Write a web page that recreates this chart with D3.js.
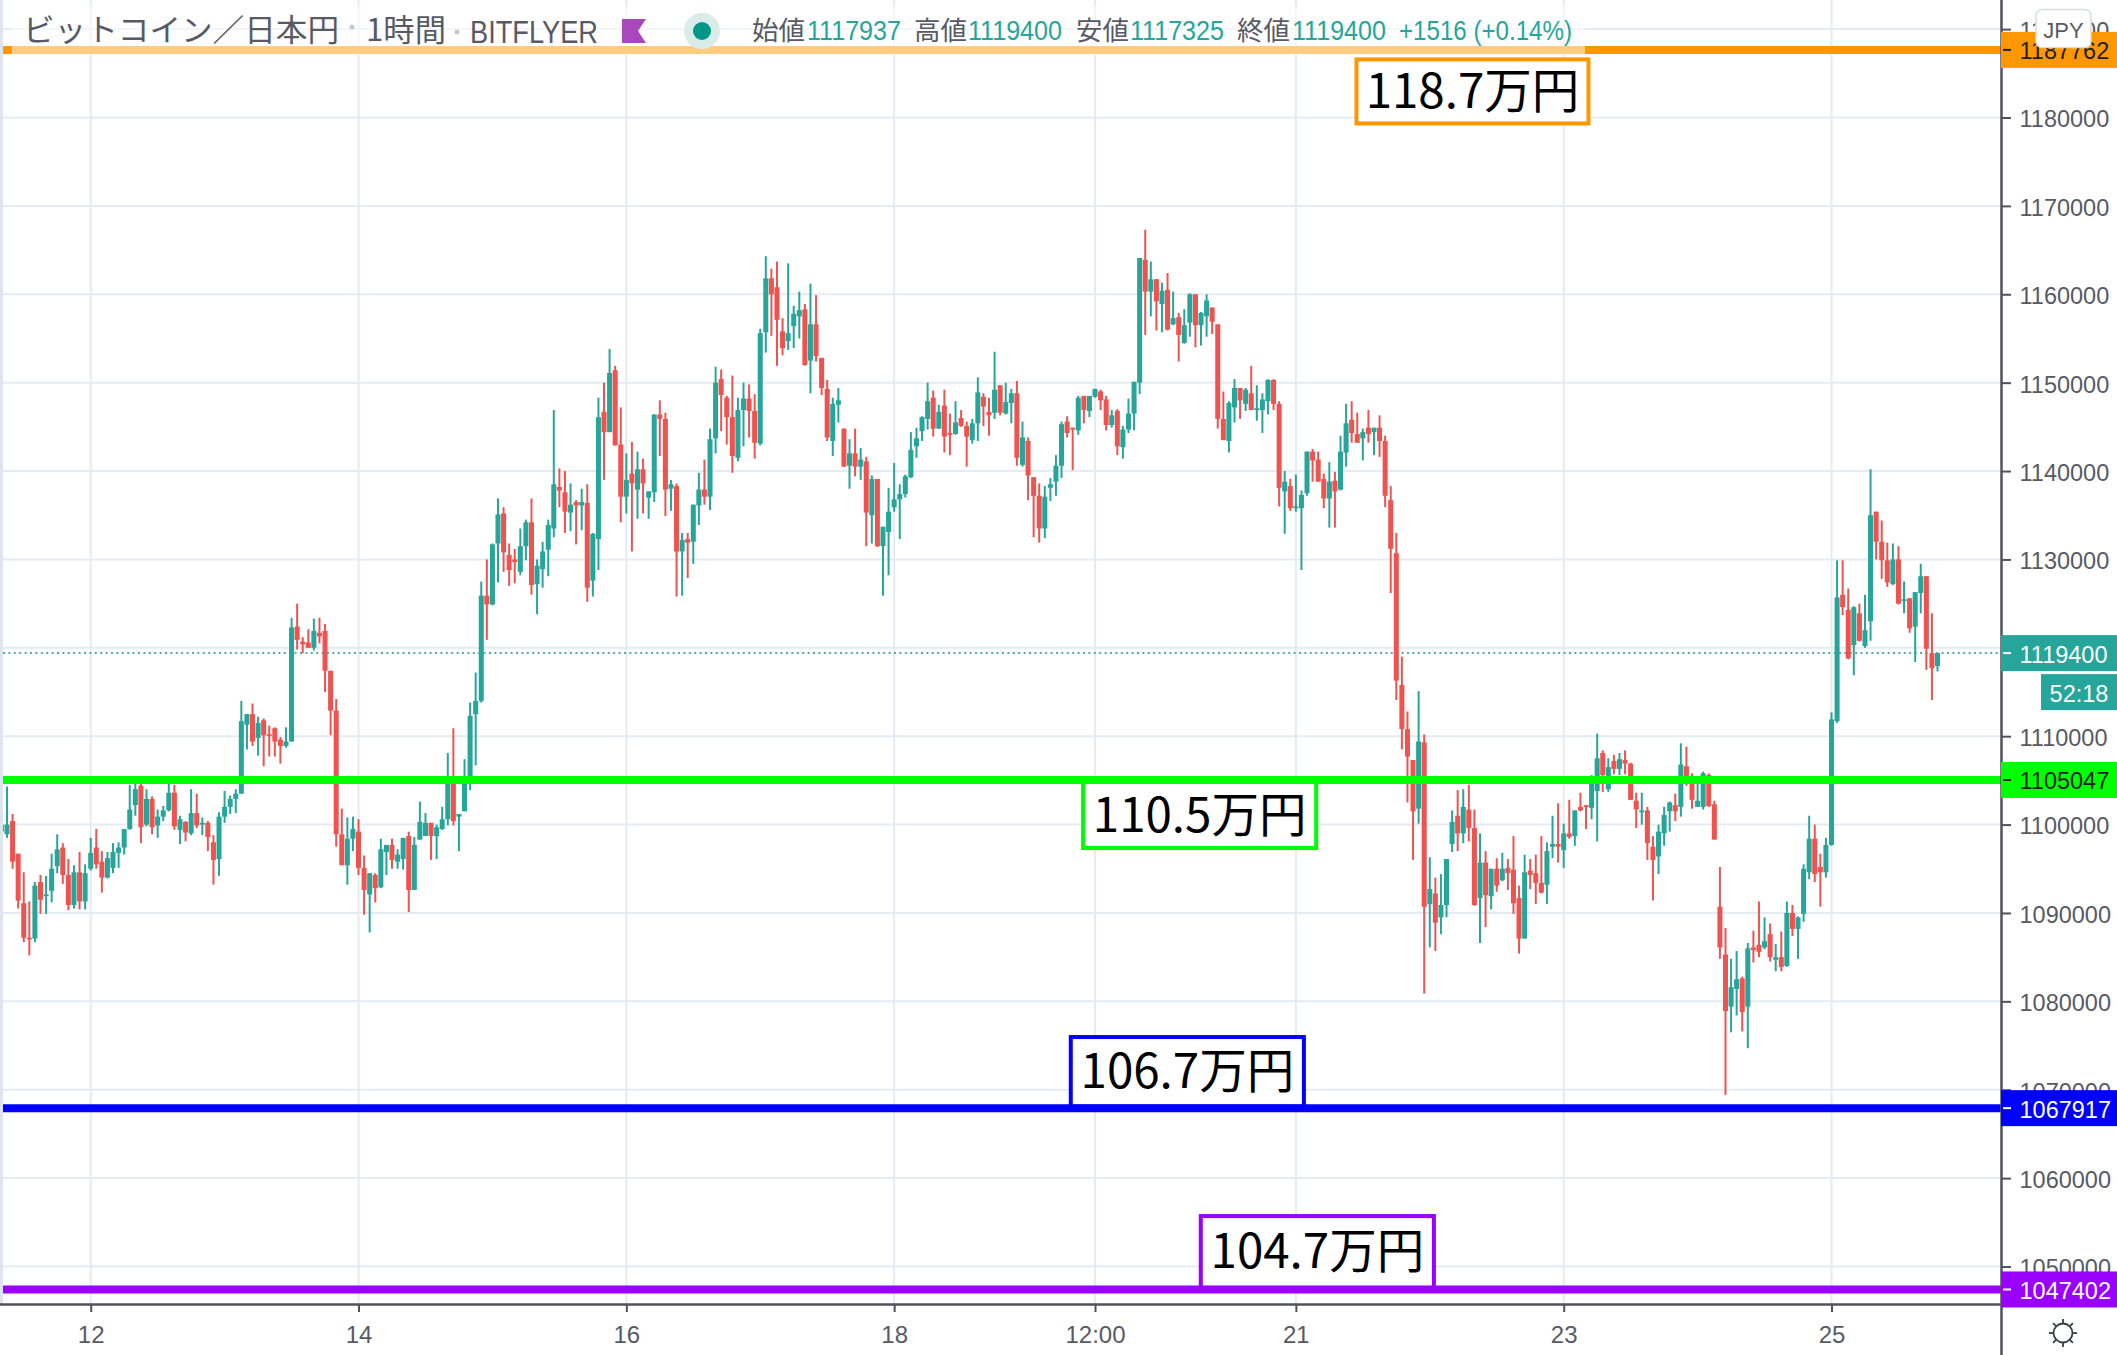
<!DOCTYPE html>
<html><head><meta charset="utf-8"><title>ビットコイン／日本円</title>
<script src="https://cdn.jsdelivr.net/npm/d3@7/dist/d3.min.js"></script>
<style>html,body{margin:0;padding:0;background:#fff;overflow:hidden}svg{display:block}</style></head>
<body><svg id="c" width="2117" height="1355"></svg>
<script>
// Hours counted from Feb 12 00:00; first candle is hour -16. Values in thousand yen.
const firstHour = -16;
const opens = [
1100,1098.9,1100.4,1096.7,1091.1,1087.2,1087.1,1093.5,1091.9,1092.5,1095.3,1097.4,
1094.3,1090.9,1094.6,1091.3,1095,1097.4,1095.8,1094,1095.1,1096.8,1097.4,1099.5,
1102.2,1104.4,1100,1102.9,1099.9,1100.9,1101.6,1103.6,1099.4,1100.3,1099,1101.3,
1100,1100.2,1098,1096.1,1100.9,1102,1102.9,1103.5,1111.3,1112.5,1109.8,1111.8,
1110.2,1110.9,1109.6,1108.9,1109.4,1122.4,1120.7,1120.6,1120,1121.7,1121.9,1117.4,
1112.9,1098.9,1095.4,1098.4,1099.2,1095.1,1092.1,1094.3,1092.9,1096.9,1097.7,1095.8,
1096.1,1098.7,1092.6,1098.3,1098.7,1100.2,1098.7,1099.5,1100.6,1104.6,1100.9,1101.5,
1105.1,1112.5,1114,1125.9,1124.9,1131.8,1135.2,1130.5,1130,1128.6,1131.5,1134.2,
1127.2,1128.9,1131.1,1133.5,1138.2,1137.6,1135.3,1136.5,1136.1,1136.4,1127.6,1132.3,
1146.7,1144.4,1151.4,1143,1137.1,1139.7,1137.9,1140.2,1137,1137.6,1146.4,1145.9,
1138,1138.3,1130.9,1132.3,1132,1136.1,1137.9,1137.1,1143.7,1150.4,1148.3,1146.1,
1141.5,1146.9,1148.2,1146.8,1143.1,1155.7,1161.8,1160.8,1155.8,1154.7,1156.4,1157.5,
1158.3,1152.5,1156.6,1152.8,1149.3,1143.4,1147.5,1144.8,1140.6,1142,1140.5,1141.1,
1135,1139.1,1131.5,1133.1,1135.9,1136.8,1137.4,1139.3,1142.8,1144.5,1145.9,1148.3,
1144.8,1147.4,1144.3,1144.2,1146,1145.1,1143.5,1145.4,1148.4,1146.7,1146.6,1149.7,
1146.5,1147.7,1148.8,1140.7,1143.4,1139.3,1137.2,1133.5,1138.1,1138.8,1140.6,1145.6,
1144.9,1144.6,1148.5,1146.8,1148.4,1149,1148.1,1145.2,1146.8,1142.7,1144.7,1146.5,
1150,1163.9,1160.3,1161.7,1158.9,1160.5,1156.6,1157.4,1154.5,1156.8,1160,1156.5,
1157.5,1158.5,1156.6,1145.9,1143.4,1147.2,1149.4,1147.6,1148.8,1146.9,1146.9,1147.9,
1150.3,1147.6,1137.7,1138.3,1135.8,1135.8,1137.5,1142.2,1141.3,1139.1,1136.9,1138.9,
1137.9,1142.1,1145.8,1144.2,1143.7,1144.9,1144.4,1144.9,1143.4,1136.7,1130.7,1115.8,
1110.8,1107.3,1101.8,1109.3,1091,1092.2,1089.5,1090.9,1097.8,1101,1099,1101.7,
1099.6,1091.7,1095.7,1091.9,1095,1093.7,1095.1,1094.9,1091.7,1087.1,1094.8,1094.5,
1093.4,1093.2,1097.5,1097.8,1097.1,1099,1098.7,1102,1102.2,1101.9,1103.8,1108.1,
1104,1107.2,1106.3,1107.3,1106.9,1102.7,1101.4,1101.6,1097.5,1096.4,1099,1101.5,
1102.2,1102,1106.6,1105.5,1102,1102,1105.6,1102.3,1090.7,1085.3,1079.4,1081.4,
1082.6,1079.4,1086.1,1086.4,1086.1,1087.6,1084.7,1085,1084,1090,1088.2,1089.9,
1094.6,1098.4,1095.2,1094.6,1097.7,1111.7,1126,1124.3,1120.3,1123.9,1120.2,1123,
1135.4,1132,1129.9,1127.2,1130,1125.3,1125.6,1122.4,1126.2,1128.1,1119.4,1117.937];
const highs = [
1100,1104.3,1101.2,1096.7,1094.6,1091.3,1093.5,1094.3,1094.2,1096.7,1098.9,1097.9,
1096.1,1095.4,1096.9,1095.5,1098.5,1099.5,1097,1096.9,1097.9,1098,1099.5,1104.5,
1104.6,1104.6,1104,1103.2,1101.7,1102.1,1104.6,1104.5,1101,1100.4,1104,1103.5,
1100.8,1100.4,1098.8,1101.4,1103.8,1103.3,1104,1114,1112.5,1113.7,1112.2,1112,
1111.2,1111,1109.9,1111,1123.4,1125,1121.2,1122.1,1123.3,1123.4,1122.7,1117.4,
1114.2,1101.8,1100.8,1100.9,1100.6,1096.5,1094.5,1094.5,1098.4,1097.7,1098.4,1097.2,
1098.5,1099.2,1098.6,1102.6,1101.3,1100.2,1100,1102,1108.1,1110.9,1101.2,1107.4,
1113.8,1117.2,1127.5,1130,1131.8,1136.9,1135.9,1131.8,1131.2,1133.5,1134.5,1136.9,
1130,1132,1134.5,1146.9,1140.3,1140,1138.6,1136.7,1138,1138.5,1133,1148.3,
1150,1153.8,1151.9,1147.2,1142,1143.3,1142.2,1141.4,1137.7,1146.4,1148,1146.6,
1139,1138.6,1133,1133,1136.2,1139.8,1141.3,1144.8,1151.8,1151.5,1148.5,1150.8,
1148.3,1150,1149.8,1148.7,1156.1,1164.3,1162.9,1163.7,1157.3,1163.5,1158.7,1160.3,
1158.9,1161.2,1159.9,1152.8,1150.3,1148.3,1149.4,1144.8,1143.6,1144.8,1142.6,1141.6,
1139.5,1139.1,1133.7,1138.1,1140.9,1138.5,1139.6,1144.4,1144.9,1146.2,1150,1149.1,
1147.5,1149.2,1146.5,1147.9,1146.9,1145.6,1145.9,1150.6,1148.8,1148.3,1153.5,1149.7,
1150,1149.3,1150.2,1145.6,1143.8,1139.3,1138.6,1138.3,1139.2,1141.8,1145.6,1146.2,
1144.9,1148.5,1148.5,1148.5,1149.3,1149.2,1148.5,1146.9,1147,1145.1,1148.2,1150.1,
1164.1,1167.3,1163.7,1161.7,1161.3,1162.4,1160.3,1157.9,1158.3,1160.1,1160,1158,
1160,1158.5,1156.6,1149,1147.9,1150.4,1149.4,1149.4,1151.9,1149.7,1148.8,1150.4,
1150.4,1147.9,1140,1139.1,1139.6,1137.8,1142.2,1142.5,1142.2,1139.7,1141,1139.9,
1144,1147.6,1147.9,1146.6,1144.8,1146.9,1144.9,1146.3,1144,1138.3,1133,1119,
1112.8,1107.3,1115.1,1110.2,1096.3,1094,1094.4,1096.1,1101.6,1103.9,1104,1104.5,
1101.7,1099,1097,1095,1096.2,1096.8,1096.1,1098.7,1093.1,1096.6,1096.1,1096.6,
1098.7,1098,1101,1102.4,1100.1,1102.8,1101.6,1103.6,1102.2,1105.6,1110.3,1108.4,
1107.5,1107.9,1108.1,1108.4,1107,1103.6,1103.6,1102,1098.7,1100,1102,1102.6,
1103.5,1109.2,1108.8,1105.8,1104.9,1106,1105.8,1102.7,1095.2,1088.3,1084.8,1085.7,
1082.8,1086.6,1088,1091.3,1089.5,1088.8,1086.5,1087.9,1091.3,1090.9,1089.6,1095.5,
1101,1100,1096.7,1098.5,1112.7,1129.9,1129.9,1126.7,1124.7,1125,1126,1140.2,
1135.4,1134.4,1131.9,1131.8,1131.5,1127.5,1125.6,1126.3,1129.5,1128.1,1123.9,1119.4];
const lows = [
1099.2,1098.5,1095,1090.5,1086.7,1085.2,1086.7,1089.9,1089.9,1091.2,1094.5,1093.3,
1090.3,1090.5,1090.4,1090.4,1094.8,1095,1092.3,1093.9,1094.5,1095.1,1096.6,1099.4,
1101,1097.9,1099.8,1098.9,1098.5,1100.4,1101.5,1099.4,1097.8,1098.1,1098.8,1099.6,
1098.8,1097,1093.2,1094.2,1100.2,1101.2,1101.3,1103.5,1108.5,1108.9,1107.8,1106.6,
1107.7,1107.7,1106.9,1108.7,1109.4,1119.8,1119.4,1120,1119.7,1120.5,1115,1110.1,
1097.5,1095.4,1093.2,1097,1094.3,1089.8,1087.8,1091.2,1092.8,1094.3,1095,1095,
1094.9,1090.1,1092.6,1098.3,1098.7,1096,1096.1,1099.4,1099.9,1099.9,1097,1101.5,
1103.9,1106.7,1113.8,1120.9,1124.8,1127.4,1128.6,1127,1127.3,1128.2,1129.9,1126,
1123.8,1126.8,1128.1,1132.5,1135.9,1133,1133.2,1131.7,1133.3,1125.2,1125.8,1128.8,
1139,1144.4,1142.9,1134.2,1135.2,1130.9,1134.6,1135.2,1134.6,1136.5,1141.7,1134.9,
1135.5,1125.8,1125.9,1127.9,1129.5,1133.9,1136.2,1135.6,1142,1144.5,1143,1139.8,
1141.1,1142.8,1143.8,1141.4,1142.9,1153.4,1155.3,1151.9,1153.1,1153.7,1153.9,1155,
1151.9,1148.8,1152.4,1148.6,1143.4,1141.7,1145.5,1140.5,1138,1139.4,1139,1131.5,
1131.8,1131.4,1125.9,1128.2,1135.4,1132.3,1137,1139.2,1141.5,1143.4,1144.7,1143.9,
1144.8,1142.1,1141.8,1144.1,1145,1140.5,1143.1,1143.4,1145.1,1144,1145.9,1146.3,
1146.4,1145.4,1140.6,1140.5,1136.7,1132.5,1131.9,1132.4,1136.6,1137.2,1139.2,1143.8,
1140.1,1144.1,1145.4,1146.1,1148.3,1146.9,1144.6,1144.9,1141.8,1141.4,1144.3,1144.6,
1148.7,1155.4,1157.5,1155.9,1155.7,1155.9,1156.5,1152.4,1154.4,1155.2,1154,1154.2,
1155.2,1155.5,1144.8,1143.5,1142.1,1145.5,1145.9,1146.8,1146.9,1145.7,1144.3,1146.4,
1146.9,1136,1132.9,1135.5,1135.4,1128.8,1137.2,1138.8,1138.8,1135.8,1133.6,1133.6,
1137.8,1140.5,1143.2,1143.2,1141.2,1143.2,1141.8,1141.6,1135.9,1126.2,1114.1,1108.5,
1102.5,1096,1100.1,1080.9,1086.1,1085.7,1087.6,1089.5,1096.9,1097,1097.9,1098.1,
1090.8,1086.6,1088.4,1090.4,1092.4,1093.6,1092.6,1089.9,1085.4,1087.1,1092.7,1091,
1092.2,1091,1096.2,1095.7,1095.1,1098.4,1097.6,1101.5,1099.5,1100.6,1098.1,1103.7,
1103.7,1105.7,1105.6,1105.7,1102.8,1099.6,1100,1096,1091.4,1094.4,1097.6,1099.2,
1100.4,1100.9,1104.4,1101.8,1102,1101.7,1102,1098.3,1084.8,1069.4,1076.5,1078.4,
1076.6,1074.7,1084.4,1085,1085.9,1084.5,1083.4,1083.4,1083.9,1087.4,1084.8,1089,
1093.8,1093.5,1090.7,1094,1097.6,1111.5,1123.7,1118.7,1116.9,1120.7,1120,1120.8,
1130,1127.8,1126.9,1127.1,1124.9,1123.9,1121.7,1118.4,1123.9,1117.5,1114.1,1117.325];
const closes = [
1099.2,1100,1095.8,1091.4,1087.2,1087.1,1093.1,1091.5,1092.1,1095,1097.2,1094.3,
1090.9,1094.6,1091.3,1094.5,1096.8,1095.5,1094,1096.2,1096.9,1097.4,1099.5,1101.7,
1104,1099.7,1102.9,1099.7,1100.9,1101.6,1103.6,1099.8,1100.6,1099.1,1101.3,1099.9,
1100.2,1098.6,1096,1100.9,1102,1102.9,1103.5,1111.7,1112.5,1109.4,1111.5,1110.1,
1110.1,1109.4,1108.9,1109.4,1122.3,1120.9,1120.4,1120,1121.9,1121.3,1117.4,1112.9,
1098.9,1095.4,1098.4,1099.5,1095.1,1092.6,1094.5,1092.8,1097.2,1097.7,1096,1096.6,
1098.5,1092.6,1097.7,1100.3,1100.2,1098.7,1099.7,1100.6,1104.7,1100.4,1101.2,1105.1,
1112.3,1114,1125.9,1124.9,1131.7,1135.1,1130.8,1128.8,1129.7,1131.5,1134.2,1127.1,
1129.3,1130.9,1133.9,1138.5,1137.8,1135.4,1136.2,1136.1,1136.5,1126.8,1132.9,1146.1,
1144.4,1151.1,1142.9,1137.1,1139,1138.6,1140.2,1138.6,1137.7,1146.4,1145.9,1137.9,
1138.5,1130.9,1132.2,1131.9,1136.2,1137.9,1137.1,1143.6,1150,1148.6,1146.1,1141.7,
1146.9,1148.2,1146.8,1143.2,1155.6,1161.8,1160,1157.1,1153.9,1155.6,1157.8,1158.2,
1152,1156.6,1153,1149.4,1143.8,1147.6,1148,1140.5,1142,1140.5,1141.3,1135.3,
1139.1,1131.5,1133.7,1135.4,1136.8,1137.4,1139.4,1142.4,1143.7,1146.1,1147.9,1144.8,
1146.7,1143.9,1144.1,1145.5,1145.1,1143.9,1145.4,1148.9,1147.3,1146.3,1149.2,1146.6,
1147.8,1148.8,1141.5,1143.8,1139.5,1137.2,1133.5,1137.1,1138.5,1140.6,1145.3,1144.3,
1144.7,1148.3,1146.9,1148.5,1149.3,1148,1145.2,1146.3,1142.8,1144.7,1146.5,1150.1,
1164.1,1160.3,1161.7,1159.2,1160.4,1156,1157.3,1155.4,1156.5,1160,1156.5,1157.9,
1159.3,1156.9,1145.9,1143.5,1147.7,1149.4,1148,1149.2,1146.9,1147.1,1148.1,1150.3,
1147.6,1138.1,1138.8,1135.8,1136,1137.3,1142.2,1141.2,1138.8,1136.9,1138.8,1137.7,
1142.2,1145.4,1144.3,1143.2,1144.4,1144.2,1144.9,1143.4,1137.2,1131.2,1116.3,1110.8,
1107.7,1101.5,1109.4,1090.7,1092.7,1088.9,1090.9,1096.1,1100.3,1099,1102,1099.6,
1090.9,1095.7,1092,1095,1093.1,1095,1094.5,1091.1,1087.1,1094.6,1094.3,1093.4,
1092.3,1097,1097.8,1097.5,1099,1098.6,1101.6,1101.6,1102,1104.7,1107.5,1105.6,
1106.5,1106.3,1107.4,1106.9,1102.8,1101.7,1101.6,1097.9,1096,1099.2,1101.1,1102.5,
1101.5,1106.8,1104.6,1102.8,1102.7,1105.8,1102.1,1098.3,1086.1,1078.9,1081.6,1082.5,
1078.8,1086,1085.8,1085.6,1086.8,1085,1085,1083.9,1090,1088.2,1089.5,1095,
1098.4,1094.4,1094.6,1097.7,1111.9,1125.7,1124.6,1118.8,1124.6,1120.8,1122,1135,
1132,1129.9,1127.4,1130,1125,1125.5,1122.2,1126.3,1128.1,1119.9,1117.7,1119.4];

const priceTicks = [1190000,1180000,1170000,1160000,1150000,1140000,1130000,1120000,1110000,1100000,1090000,1080000,1070000,1060000,1050000];
const timeTickHours = [0,48,96,144,180,216,264,312];
const timeTickLabels = ['12','14','16','18','12:00','21','23','25'];
const gridHours = timeTickHours;

const levelPrices = [1187762,1105047,1067917,1047402];
const levelColors = ['#ff9800','#00ff00','#0000ff','#9900ff'];
const levelTextColors = ['#1f1f1f','#1f1f1f','#ffffff','#ffffff'];
const noteTexts = ['118.7万円','110.5万円','106.7万円','104.7万円'];
const noteHourFrom = [226.5,177.5,175.3,198.6];
const noteHourTo = [268.8,220,217.8,241.1];
const notePriceTop = [1186800,1105047,1076187,1055933];
const notePriceBottom = [1179100,1097119,1067917,1047402];
const lastPrice = 1119400;
const countdown = '52:18';

const W=2117,H=1355,plotL=3,plotR=2001,plotB=1304;
const UP='#26a69a',DOWN='#ef5350',GRID='#e4ebf2',AXIS='#50535e',TXT='#575a65';
const SANS='"Noto Sans CJK JP","Noto Sans",sans-serif';
const NUM='"Liberation Sans",Arial,sans-serif';

const x=d3.scaleLinear().domain([0,312]).range([90.7,1831.5]);
const y=d3.scaleLinear().domain([1050000,1180000]).range([1266.5,117.5]);
const svg=d3.select('#c');

svg.append('rect').attr('x',0).attr('y',0).attr('width',W).attr('height',H).attr('fill','#fff');
svg.append('rect').attr('x',0).attr('y',0).attr('width',3).attr('height',plotB).attr('fill','#e0e3f0');

const defs=svg.append('defs');
defs.append('clipPath').attr('id','plot').append('rect').attr('x',plotL).attr('y',0).attr('width',plotR-plotL).attr('height',plotB);

// grid
svg.append('g').selectAll('line').data(priceTicks).join('line')
  .attr('x1',plotL).attr('x2',plotR).attr('y1',d=>y(d)).attr('y2',d=>y(d))
  .attr('stroke',GRID).attr('stroke-width',2);
svg.append('g').selectAll('line').data(gridHours).join('line')
  .attr('x1',d=>x(d)).attr('x2',d=>x(d)).attr('y1',0).attr('y2',plotB)
  .attr('stroke',GRID).attr('stroke-width',2);

// last price dotted line
svg.append('line').attr('x1',plotL).attr('x2',plotR).attr('y1',y(lastPrice)).attr('y2',y(lastPrice))
  .attr('stroke','#1f8f85').attr('stroke-width',1.5).attr('stroke-dasharray','2 3.4');

// candles
const candles=d3.range(opens.length).map(i=>({h:firstHour+i,o:opens[i]*1000,hi:highs[i]*1000,lo:lows[i]*1000,c:closes[i]*1000}));
const cg=svg.append('g').attr('clip-path','url(#plot)');
const col=d=>d.c>=d.o?UP:DOWN;
cg.selectAll('line.w').data(candles).join('line').attr('class','w')
  .attr('x1',d=>x(d.h)).attr('x2',d=>x(d.h)).attr('y1',d=>y(d.hi)).attr('y2',d=>y(d.lo))
  .attr('stroke',col).attr('stroke-width',2);
const bw=(x(1)-x(0))*0.9;
cg.selectAll('rect.b').data(candles).join('rect').attr('class','b')
  .attr('x',d=>x(d.h)-bw/2).attr('width',bw)
  .attr('y',d=>y(Math.max(d.o,d.c)))
  .attr('height',d=>Math.max(1.6,Math.abs(y(d.o)-y(d.c))))
  .attr('fill',col);

// level lines
svg.append('g').selectAll('line').data(levelPrices).join('line')
  .attr('x1',plotL).attr('x2',plotR).attr('y1',(d,i)=>y(d)+(i===0?1:0)).attr('y2',(d,i)=>y(d)+(i===0?1:0))
  .attr('stroke',(d,i)=>levelColors[i]).attr('stroke-width',8);

// annotation boxes
const ng=svg.append('g');
noteTexts.forEach((t,i)=>{
  const x0=x(noteHourFrom[i]),x1=x(noteHourTo[i]),y0=y(notePriceTop[i]),y1=y(notePriceBottom[i]);
  ng.append('rect').attr('x',x0+2).attr('y',y0+2).attr('width',x1-x0-4).attr('height',y1-y0-4)
    .attr('fill','#fff').attr('stroke',levelColors[i]).attr('stroke-width',4);
  ng.append('text').attr('x',(x0+x1)/2).attr('y',(y0+y1)/2-4).attr('text-anchor','middle').attr('dominant-baseline','central')
    .attr('font-family',SANS).attr('font-size',47.5).attr('fill','#000').text(t);
});

// header veil
svg.append('rect').attr('x',12).attr('y',6).attr('width',1573).attr('height',49).attr('fill','#fff').attr('opacity',0.5);

// header text
function head(t,xp,wd,fill,size){
  const el=svg.append('text').attr('x',xp).attr('y',40).attr('font-family',SANS).attr('font-size',size||24).attr('fill',fill).text(t);
  if(wd) el.attr('textLength',wd).attr('lengthAdjust','spacingAndGlyphs');
  return el;
}
head('ビットコイン／日本円',23,316,TXT,31).attr('y',41);
head('1時間',366,80,TXT,31).attr('y',41);
head('BITFLYER',470,128,TXT,32).attr('y',43).attr('font-family',NUM);
svg.append('circle').attr('cx',352).attr('cy',27).attr('r',2.5).attr('fill','#c6c9cf');
svg.append('circle').attr('cx',457).attr('cy',32).attr('r',2.5).attr('fill','#c6c9cf');
svg.append('path').attr('d',d3.line()([[622,19],[646,19],[638,31],[646,43],[622,43]])+'Z').attr('fill','#ab47bc');
svg.append('circle').attr('cx',702).attr('cy',31).attr('r',18).attr('fill','#d9ecea');
svg.append('circle').attr('cx',702).attr('cy',31).attr('r',9).attr('fill','#009688');
const legendLabels=['始値','高値','安値','終値'];
const legendValues=['1117937','1119400','1117325','1119400'];
const legendLabelX=[752,914,1076,1237];
const legendValueX=[807,968,1130,1292];
legendLabels.forEach((l,i)=>{
  head(l,legendLabelX[i],53,TXT,26);
  head(legendValues[i],legendValueX[i],94,UP,27).attr('font-family',NUM);
});
head('+1516 (+0.14%)',1399,173,UP,27).attr('font-family',NUM);

// price axis
svg.append('rect').attr('x',plotR).attr('y',0).attr('width',W-plotR).attr('height',H).attr('fill','#fff');
const yAxis=d3.axisRight(y).tickValues(priceTicks).tickSize(10).tickPadding(10).tickFormat(d3.format('d'));
const ya=svg.append('g').attr('transform',`translate(${plotR},0)`).call(yAxis);
ya.select('.domain').remove();
ya.selectAll('line').attr('stroke',AXIS).attr('stroke-width',2);
ya.selectAll('text').attr('font-family',NUM).attr('font-size',23.5).attr('fill',TXT).attr('x',18.5).attr('dy','0.4em');

// axis lines
svg.append('line').attr('x1',plotR+0.5).attr('x2',plotR+0.5).attr('y1',0).attr('y2',H).attr('stroke',AXIS).attr('stroke-width',2.5);
svg.append('line').attr('x1',0).attr('x2',plotR).attr('y1',plotB+0.5).attr('y2',plotB+0.5).attr('stroke',AXIS).attr('stroke-width',2.5);

// time axis
const xAxis=d3.axisBottom(x).tickValues(timeTickHours).tickSize(8).tickPadding(10).tickFormat((d,i)=>timeTickLabels[i]);
const xa=svg.append('g').attr('transform',`translate(0,${plotB})`).call(xAxis);
xa.select('.domain').remove();
xa.selectAll('line').attr('stroke',AXIS).attr('stroke-width',2);
xa.selectAll('text').attr('font-family',NUM).attr('font-size',24).attr('fill',TXT).attr('y',22).attr('dy','0.71em');

// price labels
function priceLabel(p,h,bg,fg,nudge){
  const cy=y(p)+(nudge||0);
  svg.append('rect').attr('x',plotR).attr('y',cy-h/2).attr('width',W-plotR).attr('height',h).attr('fill',bg);
  svg.append('line').attr('x1',plotR+2).attr('x2',plotR+10).attr('y1',cy).attr('y2',cy).attr('stroke',fg).attr('stroke-width',2);
  svg.append('text').attr('x',2019.5).attr('y',cy).attr('dy','0.4em').attr('font-family',NUM).attr('font-size',23.5).attr('fill',fg).text(String(p));
}
levelPrices.forEach((p,i)=>priceLabel(p,36,levelColors[i],levelTextColors[i],i===0?1:0));
priceLabel(lastPrice,36,UP,'#fff',0);
svg.append('rect').attr('x',2041).attr('y',y(lastPrice)+21).attr('width',W-2041).attr('height',36).attr('fill',UP);
svg.append('text').attr('x',2079).attr('y',y(lastPrice)+39).attr('dy','0.4em').attr('text-anchor','middle').attr('font-family',NUM).attr('font-size',23.5).attr('fill','#fff').text(countdown);

// currency button
svg.append('rect').attr('x',2036).attr('y',9.5).attr('width',55).attr('height',38).attr('rx',6).attr('fill','#fff').attr('stroke','#dadde0').attr('stroke-width',1.5);
svg.append('text').attr('x',2063.5).attr('y',29).attr('dy','0.4em').attr('text-anchor','middle').attr('font-family',NUM).attr('font-size',22).attr('fill',TXT).text('JPY');

// settings icon
const gear=svg.append('g').attr('transform','translate(2063,1333)').attr('fill','none').attr('stroke','#3a3d45').attr('stroke-width',1.8);
gear.append('circle').attr('r',9.5);
gear.selectAll('line').data(d3.range(8)).join('line')
  .attr('x1',d=>Math.cos(d*Math.PI/4)*9.5).attr('y1',d=>Math.sin(d*Math.PI/4)*9.5)
  .attr('x2',d=>Math.cos(d*Math.PI/4)*14).attr('y2',d=>Math.sin(d*Math.PI/4)*14);
</script></body></html>
